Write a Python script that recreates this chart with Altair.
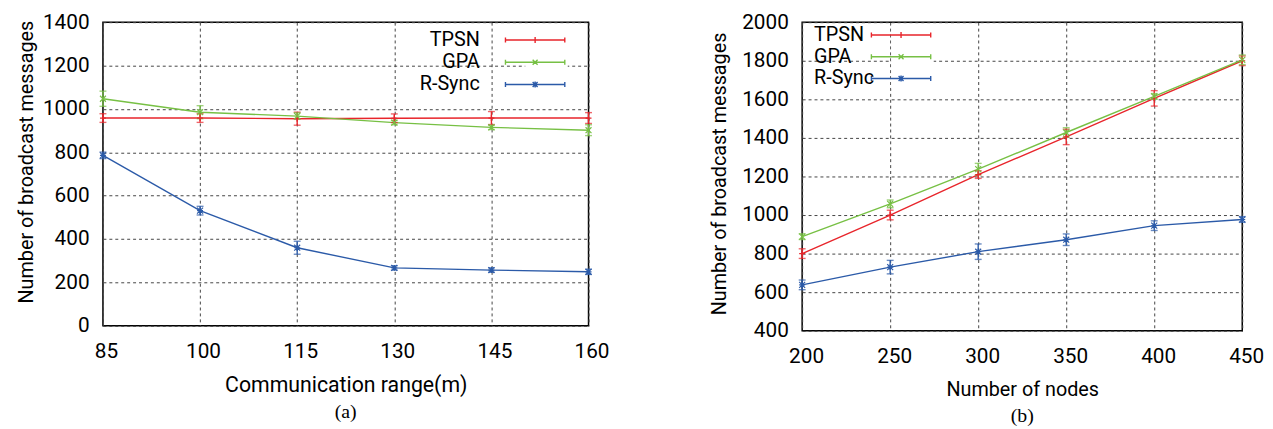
import altair as alt
import pandas as pd

SERIES = ["TPSN", "GPA", "R-Sync"]
COLORS = ["#e8252b", "#77c044", "#2b5aa8"]

# panel (a): communication range
a_x = [85, 100, 115, 130, 145, 160]
a_tpsn = [958, 958, 955, 957, 958, 958]
a_tpsn_err = [20, 20, 30, 20, 30, 25]
a_gpa = [1047, 985, 967, 937, 915, 902]
a_gpa_err = [35, 30, 15, 10, 10, 25]
a_rsync = [786, 531, 360, 267, 257, 249]
a_rsync_err = [15, 20, 30, 10, 10, 12]

# panel (b): number of nodes
b_x = [200, 250, 300, 350, 400, 450]
b_tpsn = [800, 1000, 1210, 1405, 1605, 1800]
b_tpsn_err = [25, 25, 20, 40, 40, 25]
b_gpa = [888, 1058, 1238, 1428, 1615, 1805]
b_gpa_err = [15, 20, 30, 25, 15, 25]
b_rsync = [638, 730, 810, 872, 945, 977]
b_rsync_err = [25, 35, 40, 30, 25, 15]

MARKERS = [
    "M-1,0H1M0,-1V1",
    "M-1,-1L1,1M-1,1L1,-1",
    "M-1,-1L1,1M-1,1L1,-1M-1,0H1M0,-1V1",
]
LEGEND_PATHS = [
    "M-6,0H6M-6,-0.5V0.5M6,-0.5V0.5M0,-0.6V0.6",
    "M-6,0H6M-6,-0.5V0.5M6,-0.5V0.5M-0.5,-0.5L0.5,0.5M-0.5,0.5L0.5,-0.5",
    "M-6,0H6M-6,-0.5V0.5M6,-0.5V0.5M-0.5,-0.5L0.5,0.5M-0.5,0.5L0.5,-0.5M0,-0.6V0.6",
]

SANS = "Roboto"
SERIF = "Liberation Serif"

COLOR_EXPR = " : ".join(
    f"datum.value === '{s}' ? '{c}'" for s, c in zip(SERIES[:-1], COLORS[:-1])
) + f" : '{COLORS[-1]}'"


def make_df(xs, groups):
    rows = []
    for name, ys, errs in groups:
        for x, y, e in zip(xs, ys, errs):
            rows.append({"x": x, "y": y, "lo": y - e, "hi": y + e, "series": name})
    return pd.DataFrame(rows)


def panel(df, xs, x_title, y_domain, y_ticks, width, height, legend, title, y_title_pad,
          x_title_size, x_label_shift, y_title_pos):
    x_enc = alt.X("x:Q", scale=alt.Scale(domain=[xs[0], xs[-1]], nice=False, zero=False),
                  axis=alt.Axis(values=xs, format="d", title=x_title, labelPadding=15, titlePadding=13,
                                labelFlush=False, labelOffset=x_label_shift, titleFontSize=x_title_size))
    y_axis = alt.Axis(values=y_ticks, format="d", title="Number of broadcast messages",
                      labelPadding=14, titlePadding=y_title_pad, titleY=y_title_pos)
    y_scale = alt.Scale(domain=y_domain, nice=False, zero=False)
    col = alt.Color("series:N", scale=alt.Scale(domain=SERIES, range=COLORS), legend=None)
    base = alt.Chart(df)
    line = base.mark_line(strokeWidth=1.4).encode(x=x_enc, y=alt.Y("y:Q", scale=y_scale, axis=y_axis), color=col)
    rules = base.mark_rule(strokeWidth=1.4).encode(x=x_enc, y=alt.Y("lo:Q", scale=y_scale, axis=y_axis), y2="hi:Q", color=col)
    cap_lo = base.mark_tick(orient="horizontal", size=7, thickness=1.4).encode(
        x=x_enc, y=alt.Y("lo:Q", scale=y_scale, axis=y_axis), color=col)
    cap_hi = base.mark_tick(orient="horizontal", size=7, thickness=1.4).encode(
        x=x_enc, y=alt.Y("hi:Q", scale=y_scale, axis=y_axis), color=col)
    marks = base.mark_point(filled=False, size=36, strokeWidth=1.2, opacity=1).encode(
        x=x_enc, y=alt.Y("y:Q", scale=y_scale, axis=y_axis), color=col,
        shape=alt.Shape("series:N", scale=alt.Scale(domain=SERIES, range=MARKERS), legend=None))
    leg = base.mark_point(filled=False, strokeWidth=1.4, opacity=1).transform_filter("false").encode(
        x=x_enc, y=alt.Y("y:Q", scale=y_scale, axis=y_axis),
        shape=alt.Shape("series:N", scale=alt.Scale(domain=SERIES, range=LEGEND_PATHS), legend=legend))
    return alt.layer(line, rules, cap_lo, cap_hi, marks, leg).resolve_scale(shape="independent").properties(
        width=width, height=height,
        title=alt.TitleParams(title, orient="bottom", font=SERIF, fontSize=20, fontWeight="normal",
                              color="black", offset=7))


def legend(x, y, align, offset, row_pad):
    return alt.Legend(orient="none", legendX=x, legendY=y, title=None, symbolSize=100,
                      symbolStrokeWidth=1.4, symbolStrokeColor={"expr": COLOR_EXPR},
                      symbolFillColor="transparent", symbolOpacity=1,
                      labelFont=SANS, labelFontSize=20, labelColor="black",
                      labelAlign=align, labelOffset={"expr": str(offset)}, rowPadding=row_pad, padding=0,
                      fillColor="white")


df_a = make_df(a_x, [("TPSN", a_tpsn, a_tpsn_err), ("GPA", a_gpa, a_gpa_err), ("R-Sync", a_rsync, a_rsync_err)])
df_b = make_df(b_x, [("TPSN", b_tpsn, b_tpsn_err), ("GPA", b_gpa, b_gpa_err), ("R-Sync", b_rsync, b_rsync_err)])

chart_a = panel(df_a, a_x, "Communication range(m)", [0, 1400], list(range(0, 1401, 200)), 491, 307,
                legend(427, 8, "right", -66, 2.5), "(a)", 6, 21.5, 3, 141)
chart_b = panel(df_b, b_x, "Number of nodes", [400, 2000], list(range(400, 2001, 200)), 445, 312,
                legend(90, 3, "left", -98, 2), "(b)", 12, 20, 4, 153)

chart = alt.hconcat(chart_a, chart_b, spacing=100).configure(
    padding={"left": 8, "top": 0, "right": 0, "bottom": 0}
).configure_view(stroke="black", strokeWidth=1.5).configure_axis(
    domain=False, ticks=False, gridColor="#444", gridDash=[3, 3], gridWidth=1, gridOpacity=1,
    labelFont=SANS, labelFontSize=21, labelColor="black", titleFont=SANS, titleFontSize=20,
    titleFontWeight="normal", titleColor="black"
)

chart.save("out.html", embed_options={"renderer": "svg", "actions": False})
